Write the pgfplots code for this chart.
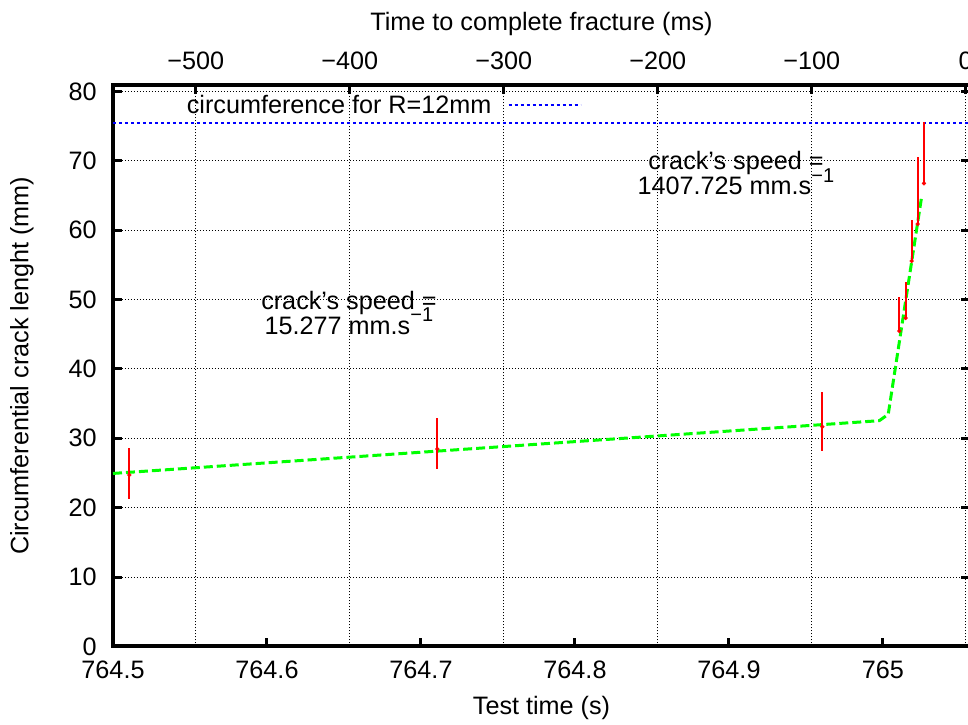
\documentclass[border=0pt]{standalone}
\usepackage{fontspec}
\setmainfont{Liberation Sans}
\usepackage{pgfplots}
\pgfplotsset{compat=1.18}

\definecolor{gpred}{RGB}{255,0,0}
\definecolor{gpgreen}{RGB}{0,255,0}
\definecolor{gpblue}{RGB}{0,0,255}

% gnuplot-like superscript
\newcommand\gpsup[1]{\smash{\raisebox{0.5em}{\fontsize{15}{15}\selectfont #1}}}

% shared frame for both axes (1px = 0.75pt)
\pgfplotsset{
  gpframe/.style={
    scale only axis, width=642.75pt, height=421.05pt,
    ymin=0, ymax=80.9,
    axis line style={line width=3pt, line cap=rect, -},
    tick align=inside,
    major tick length=6.5pt,
    every tick/.style={black, line width=2.25pt},
    grid style={black, line width=0.75pt, dash pattern=on 0.75pt off 1.5pt},
  },
}

\begin{document}
\begin{tikzpicture}[font=\fontsize{18.9}{21.5}\selectfont]

% top axis (time to fracture), carries the vertical grid
\begin{axis}[gpframe,
  xmin=-553.7, xmax=2.8,
  xtick={-500,-400,-300,-200,-100,0},
  xticklabels={−500,−400,−300,−200,−100,0},
  xtick pos=right, xticklabel pos=right,
  ytick=\empty,
  xmajorgrids,
  xticklabel style={anchor=center, inner sep=0pt, yshift=18pt},
  xlabel={Time to complete fracture (ms)},
  xlabel style={at={(axis description cs:0.5,1.108)}, anchor=center},
]
\end{axis}

% main axis
\begin{axis}[gpframe,
  xmin=764.5, xmax=765.0565,
  xtick={764.5,764.6,764.7,764.8,764.9,765},
  xticklabels={764.5,764.6,764.7,764.8,764.9,765},
  xtick pos=left,
  ytick={0,10,...,80},
  ymajorgrids,
  /pgf/number format/assume math mode=true,
  xticklabel style={anchor=center, inner sep=0pt, yshift=-17.5pt},
  yticklabel style={anchor=east, inner sep=0pt, xshift=-12pt},
  xlabel={Test time (s)},
  xlabel style={at={(axis description cs:0.5,-0.1095)}, anchor=center},
  ylabel={Circumferential crack lenght (mm)},
  ylabel style={at={(axis description cs:-0.1062,0.5)}, anchor=center},
  legend style={draw=none, fill=none, at={(axis cs:764.5478,77.97)}, anchor=west,
    inner sep=0pt, nodes={inner sep=0pt}, /tikz/column sep=12pt},
  legend plot pos=right,
  legend image code/.code={\draw[#1] (0pt,0pt) -- (54pt,0pt);},
]

\addplot[gpblue, line width=1.6pt, dash pattern=on 2.25pt off 2.25pt]
  coordinates {(764.5,75.4) (765.0565,75.4)};
\addlegendentry{circumference for R=12mm}

% fitted bilinear law
\addplot[forget plot, gpgreen, line width=2.25pt, dash pattern=on 6.75pt off 3pt]
  coordinates {(764.5,24.94) (764.9976,32.54) (765.0034,33.46) (765.0251,64.81)};

% measured crack length with its range
\addplot[forget plot, only marks, gpred, mark=*, mark size=1.4pt,
  error bars/.cd, y dir=both, y explicit, error mark=none,
  error bar style={line width=1.6pt, gpred}]
  coordinates {
    (764.5106,24.71) += (0,3.85) -= (0,3.50)
    (764.7106,28.46) += (0,4.51) -= (0,2.93)
    (764.9606,31.67) += (0,5.04) -= (0,3.46)
    (765.0106,45.46) += (0,4.94) -= (0,0.15)
    (765.0147,47.33) += (0,5.23) -= (0,0.15)
    (765.0186,55.55) += (0,5.91) -= (0,0.15)
    (765.0225,60.88) += (0,9.70) -= (0,0.15)
    (765.0266,66.74) += (0,8.79) -= (0,0.15)
  };

\node[align=center, font=\fontsize{18.9}{18.9}\selectfont] at (axis cs:764.6532,48.1)
  {crack’s speed =\\15.277 mm.s\gpsup{−1}};
\node[align=center, font=\fontsize{18.9}{18.9}\selectfont] at (axis cs:764.9045,68.2)
  {crack’s speed =\\1407.725 mm.s\gpsup{−1}};
\end{axis}

% crop to the reference frame: the right border falls just outside
\pgfresetboundingbox
\path[use as bounding box] (-84.75pt,-58.875pt) rectangle (641.25pt,484.875pt);
\end{tikzpicture}
\end{document}
